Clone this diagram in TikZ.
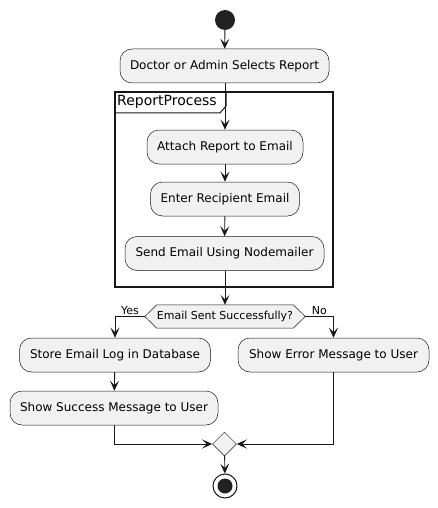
\documentclass[tikz,border=0pt]{standalone}
\usepackage{fontspec}
\setmainfont{DejaVu Sans}
\usetikzlibrary{arrows.meta,shapes.geometric}
\definecolor{boxfill}{HTML}{F1F1F1}
\definecolor{boxline}{HTML}{181818}
\definecolor{dotc}{HTML}{222222}
\tikzset{
  act/.style={draw=boxline,fill=boxfill,rounded corners=12pt,minimum height=34pt,inner xsep=10pt,font=\fontsize{12}{14}\selectfont,line width=0.5pt},
  flow/.style={draw=boxline,line width=0.9pt,-{Stealth[length=10pt,width=9pt,inset=4.5pt]}},
  plain/.style={draw=boxline,line width=0.9pt},
  lbl/.style={font=\fontsize{11}{13}\selectfont,inner sep=1pt}
}
\begin{document}
\begin{tikzpicture}[x=1pt,y=-1pt]
\useasboundingbox (0,0) rectangle (438,508);
\node[circle,fill=dotc,minimum size=20pt,inner sep=0] (start) at (225,20) {};
\node[act,minimum width=209pt] (sel) at (224.5,66) {Doctor or Admin Selects Report};
% frame
\draw[line width=1.4pt,boxline] (115,92) rectangle (333,287);
\draw[line width=1pt,boxline] (115,113) -- (220,113) -- (226,106) -- (226,92);
\node[anchor=west,font=\fontsize{14}{16}\selectfont,inner sep=0] (frm) at (117,102) {ReportProcess};
\node[act,minimum width=156pt] (att) at (225,147) {Attach Report to Email};
\node[act,minimum width=149pt] (ent) at (225,199) {Enter Recipient Email};
\node[act,minimum width=199pt] (snd) at (224.5,253.5) {Send Email Using Nodemailer};
\coordinate (fb) at (225,287);
% decision
\node[minimum width=160pt,minimum height=23pt,inner sep=0] (dec) at (225,316.5) {};
\draw[draw=boxline,fill=boxfill,line width=0.5pt] (dec.west) -- ([xshift=12pt]dec.north west) -- ([xshift=-12pt]dec.north east) -- (dec.east) -- ([xshift=-12pt]dec.south east) -- ([xshift=12pt]dec.south west) -- cycle;
\node[font=\fontsize{11}{13}\selectfont] (dect) at (dec) {Email Sent Successfully?};
\node[act,minimum width=191pt] (store) at (115,355) {Store Email Log in Database};
\node[act,minimum width=191pt] (err) at (333.5,355) {Show Error Message to User};
\node[act,minimum width=208pt] (succ) at (114,408) {Show Success Message to User};
\node[diamond,draw=boxline,fill=boxfill,line width=0.5pt,minimum width=24pt,minimum height=24pt,inner sep=0] (mrg) at (224.5,444) {};
\node[circle,draw=boxline,line width=1pt,fill=white,minimum size=24pt,inner sep=0] (endo) at (225,486) {};
\node[circle,fill=dotc,minimum size=15pt,inner sep=0] (endi) at (225,486) {};
% connectors
\draw[flow] (start) -- (sel);
\draw[flow] (sel.south -| att.north) -- (att.north);
\draw[flow] (att) -- (ent);
\draw[flow] (ent) -- (snd);
\draw[plain] (snd.south -| fb) -- (fb);
\draw[flow] (fb) -- (dec.north -| fb);
\draw[flow] (dec.west) -| node[lbl,pos=0.25,above] {Yes} (store.north);
\draw[flow] (dec.east) -| node[lbl,pos=0.25,above] {No} (err.north);
\draw[flow] (store) -- (succ);
\draw[flow] (succ.south) |- (mrg.west);
\draw[flow] (err.south) |- (mrg.east);
\draw[flow] (mrg) -- (endo);
\end{tikzpicture}
\end{document}
